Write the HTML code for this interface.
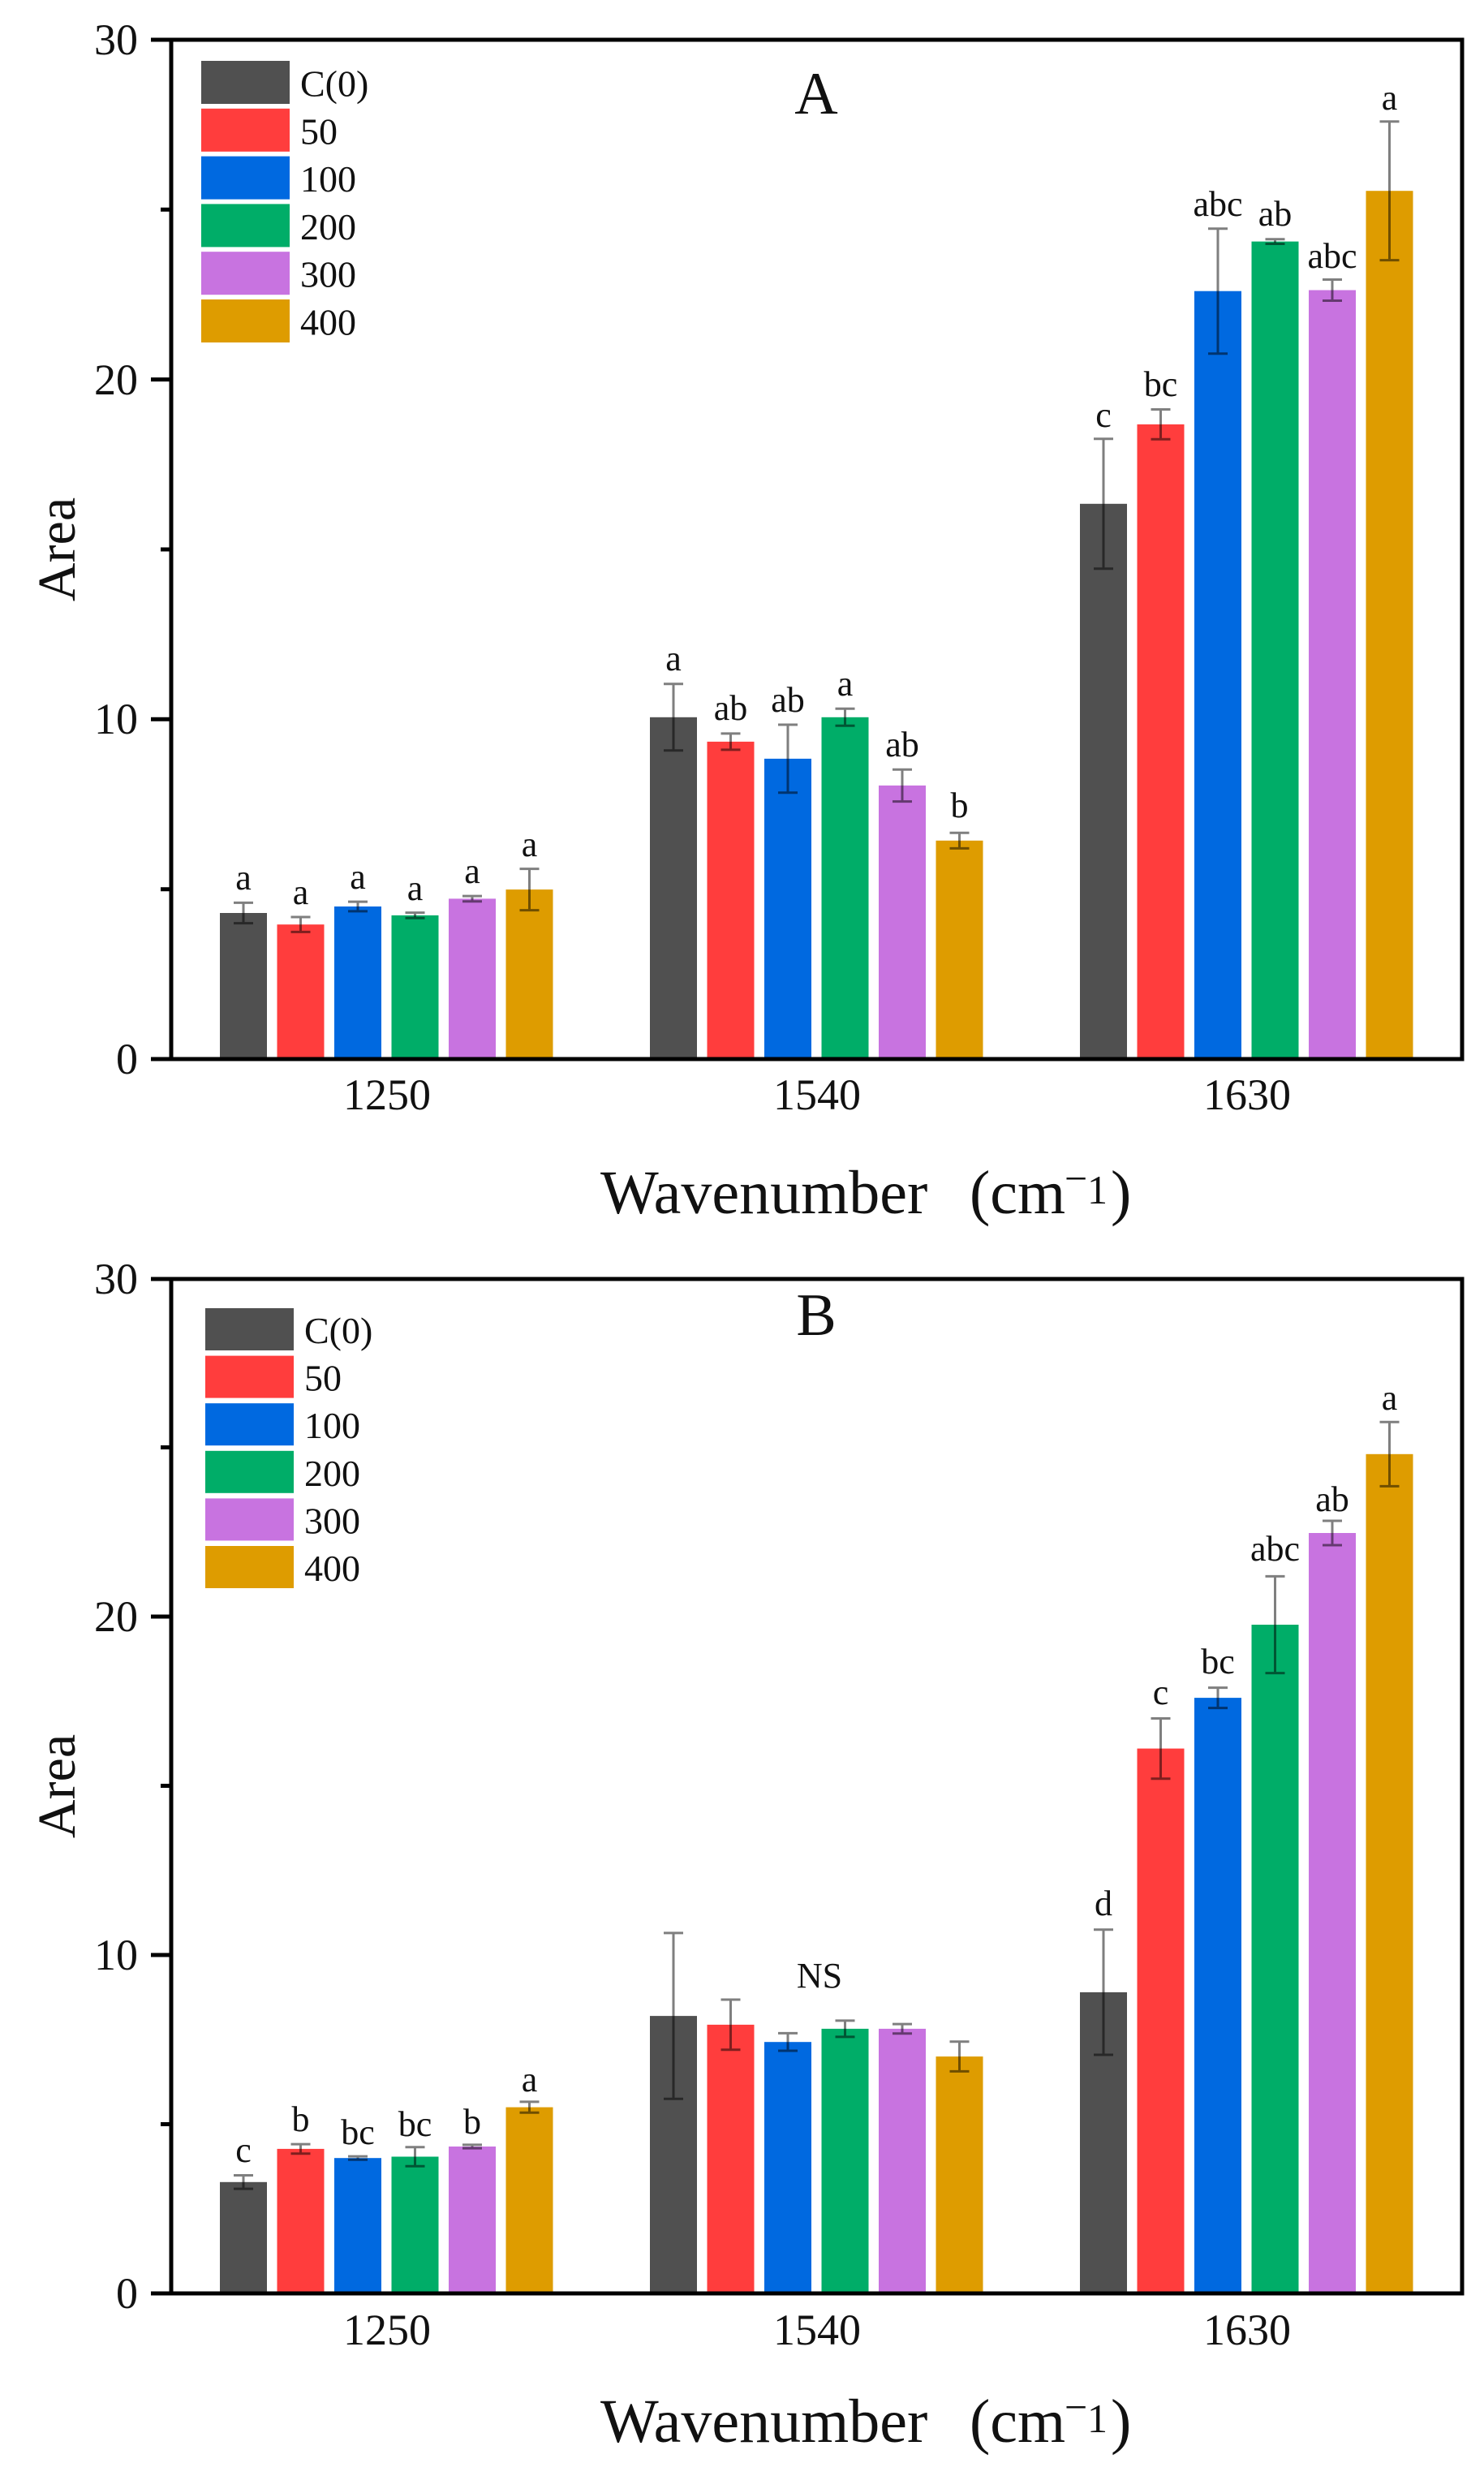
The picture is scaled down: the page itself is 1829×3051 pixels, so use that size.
<!DOCTYPE html>
<html><head><meta charset="utf-8"><style>
html,body{margin:0;padding:0;background:#fff;}
svg{display:block;}
text{font-family:"Liberation Serif","Times New Roman",serif;fill:#111;}
</style></head><body>
<svg width="1829" height="3051" viewBox="0 0 1829 3051" xmlns="http://www.w3.org/2000/svg">
<rect width="1829" height="3051" fill="#fff"/>

<!-- ================= PANEL A ================= -->
<g id="barsA">
<rect x="271" y="1125.0" width="58" height="180.0" fill="#505050"/>
<rect x="341.5" y="1139.2" width="58" height="165.8" fill="#FF3D3D"/>
<rect x="412" y="1117.0" width="58" height="188.0" fill="#0069E0"/>
<rect x="482.5" y="1127.9" width="58" height="177.1" fill="#00AD68"/>
<rect x="553" y="1107.4" width="58" height="197.6" fill="#C873E0"/>
<rect x="623.5" y="1096.1" width="58" height="208.9" fill="#DE9C00"/>
<rect x="801" y="883.8" width="58" height="421.2" fill="#505050"/>
<rect x="871.5" y="913.9" width="58" height="391.1" fill="#FF3D3D"/>
<rect x="942" y="934.9" width="58" height="370.1" fill="#0069E0"/>
<rect x="1012.5" y="883.8" width="58" height="421.2" fill="#00AD68"/>
<rect x="1083" y="967.9" width="58" height="337.1" fill="#C873E0"/>
<rect x="1153.5" y="1035.8" width="58" height="269.2" fill="#DE9C00"/>
<rect x="1331" y="620.8" width="58" height="684.2" fill="#505050"/>
<rect x="1401.5" y="522.9" width="58" height="782.1" fill="#FF3D3D"/>
<rect x="1472" y="358.7" width="58" height="946.3" fill="#0069E0"/>
<rect x="1542.5" y="297.6" width="58" height="1007.4" fill="#00AD68"/>
<rect x="1613" y="357.5" width="58" height="947.5" fill="#C873E0"/>
<rect x="1683.5" y="235.2" width="58" height="1069.8" fill="#DE9C00"/>
</g>

<g stroke="#000" stroke-opacity="0.5" stroke-width="3" fill="none">
<path d="M300 1112.4V1137.6M288 1112.4H312M288 1137.6H312"/>
<path d="M370.5 1130.0V1148.4M358.5 1130.0H382.5M358.5 1148.4H382.5"/>
<path d="M441 1111.1V1122.9M429 1111.1H453M429 1122.9H453"/>
<path d="M511.5 1124.6V1131.2M499.5 1124.6H523.5M499.5 1131.2H523.5"/>
<path d="M582 1104.1V1110.7M570 1104.1H594M570 1110.7H594"/>
<path d="M652.5 1070.6V1121.6M640.5 1070.6H664.5M640.5 1121.6H664.5"/>
<path d="M830 842.8V924.8M818 842.8H842M818 924.8H842"/>
<path d="M900.5 903.9V923.9M888.5 903.9H912.5M888.5 923.9H912.5"/>
<path d="M971 893.0V976.8M959 893.0H983M959 976.8H983"/>
<path d="M1041.5 873.3V894.3M1029.5 873.3H1053.5M1029.5 894.3H1053.5"/>
<path d="M1112 948.2V987.6M1100 948.2H1124M1100 987.6H1124"/>
<path d="M1182.5 1026.2V1045.4M1170.5 1026.2H1194.5M1170.5 1045.4H1194.5"/>
<path d="M1360 540.8V700.8M1348 540.8H1372M1348 700.8H1372"/>
<path d="M1430.5 504.5V541.3M1418.5 504.5H1442.5M1418.5 541.3H1442.5"/>
<path d="M1501 281.7V435.7M1489 281.7H1513M1489 435.7H1513"/>
<path d="M1571.5 294.7V300.5M1559.5 294.7H1583.5M1559.5 300.5H1583.5"/>
<path d="M1642 344.5V370.5M1630 344.5H1654M1630 370.5H1654"/>
<path d="M1712.5 149.8V320.6M1700.5 149.8H1724.5M1700.5 320.6H1724.5"/>
</g>

<g font-size="44" text-anchor="middle">
<text x="300" y="1096">a</text>
<text x="370.5" y="1114">a</text>
<text x="441" y="1095">a</text>
<text x="511.5" y="1109">a</text>
<text x="582" y="1088">a</text>
<text x="652.5" y="1055">a</text>
<text x="830" y="826">a</text>
<text x="900.5" y="887">ab</text>
<text x="971" y="877">ab</text>
<text x="1041.5" y="857">a</text>
<text x="1112" y="932">ab</text>
<text x="1182.5" y="1007">b</text>
<text x="1360" y="526">c</text>
<text x="1430.5" y="488">bc</text>
<text x="1501" y="266">abc</text>
<text x="1571.5" y="278">ab</text>
<text x="1642" y="330">abc</text>
<text x="1712.5" y="135">a</text>
</g>

<g stroke="#000" stroke-width="5" fill="none">
<rect x="211" y="49" width="1591" height="1256"/>
<path d="M186 1305H211M186 886.3H211M186 467.6H211M186 49H211"/>
<path d="M198 1095.7H211M198 677H211M198 258.3H211"/>
</g>
<g font-size="54" text-anchor="end">
<text x="170" y="1323">0</text>
<text x="170" y="904">10</text>
<text x="170" y="486">20</text>
<text x="170" y="67">30</text>
</g>
<g font-size="54" text-anchor="middle">
<text x="477" y="1367">1250</text>
<text x="1007" y="1367">1540</text>
<text x="1537" y="1367">1630</text>
</g>
<text font-size="76" x="740" y="1495">Wavenumber<tspan x="1195">(cm</tspan><tspan x="1312" y="1469" font-size="50">−</tspan><tspan x="1340" y="1483" font-size="50">1</tspan><tspan x="1369" y="1495" font-size="76">)</tspan></text>
<text font-size="66" text-anchor="middle" transform="translate(92,677) rotate(-90)">Area</text>
<text font-size="74" x="1006" y="140" text-anchor="middle">A</text>

<g>
<rect x="248" y="75" width="109" height="53" fill="#505050"/>
<rect x="248" y="133.8" width="109" height="53" fill="#FF3D3D"/>
<rect x="248" y="192.6" width="109" height="53" fill="#0069E0"/>
<rect x="248" y="251.4" width="109" height="53" fill="#00AD68"/>
<rect x="248" y="310.2" width="109" height="53" fill="#C873E0"/>
<rect x="248" y="369" width="109" height="53" fill="#DE9C00"/>
</g>
<g font-size="46">
<text x="370" y="118.5">C(0)</text>
<text x="370" y="177.3">50</text>
<text x="370" y="236.1">100</text>
<text x="370" y="294.9">200</text>
<text x="370" y="353.7">300</text>
<text x="370" y="412.5">400</text>
</g>

<!-- ================= PANEL B ================= -->
<g id="barsB">
<rect x="271" y="2688.8" width="58" height="137.2" fill="#505050"/>
<rect x="341.5" y="2647.9" width="58" height="178.1" fill="#FF3D3D"/>
<rect x="412" y="2659.2" width="58" height="166.8" fill="#0069E0"/>
<rect x="482.5" y="2657.5" width="58" height="168.5" fill="#00AD68"/>
<rect x="553" y="2645.0" width="58" height="181.0" fill="#C873E0"/>
<rect x="623.5" y="2596.6" width="58" height="229.4" fill="#DE9C00"/>
<rect x="801" y="2484.1" width="58" height="341.9" fill="#505050"/>
<rect x="871.5" y="2494.9" width="58" height="331.1" fill="#FF3D3D"/>
<rect x="942" y="2516.2" width="58" height="309.8" fill="#0069E0"/>
<rect x="1012.5" y="2499.9" width="58" height="326.1" fill="#00AD68"/>
<rect x="1083" y="2499.9" width="58" height="326.1" fill="#C873E0"/>
<rect x="1153.5" y="2534.1" width="58" height="291.9" fill="#DE9C00"/>
<rect x="1331" y="2454.9" width="58" height="371.1" fill="#505050"/>
<rect x="1401.5" y="2154.6" width="58" height="671.4" fill="#FF3D3D"/>
<rect x="1472" y="2092.1" width="58" height="733.9" fill="#0069E0"/>
<rect x="1542.5" y="2002.0" width="58" height="824.0" fill="#00AD68"/>
<rect x="1613" y="1889.0" width="58" height="937.0" fill="#C873E0"/>
<rect x="1683.5" y="1791.8" width="58" height="1034.2" fill="#DE9C00"/>
</g>

<g stroke="#000" stroke-opacity="0.5" stroke-width="3" fill="none">
<path d="M300 2680.5V2697.1M288 2680.5H312M288 2697.1H312"/>
<path d="M370.5 2642.1V2653.7M358.5 2642.1H382.5M358.5 2653.7H382.5"/>
<path d="M441 2657.1V2661.3M429 2657.1H453M429 2661.3H453"/>
<path d="M511.5 2645.8V2669.2M499.5 2645.8H523.5M499.5 2669.2H523.5"/>
<path d="M582 2642.9V2647.1M570 2642.9H594M570 2647.1H594"/>
<path d="M652.5 2589.9V2603.3M640.5 2589.9H664.5M640.5 2603.3H664.5"/>
<path d="M830 2381.9V2586.3M818 2381.9H842M818 2586.3H842"/>
<path d="M900.5 2464.0V2525.8M888.5 2464.0H912.5M888.5 2525.8H912.5"/>
<path d="M971 2505.4V2527.0M959 2505.4H983M959 2527.0H983"/>
<path d="M1041.5 2489.9V2509.9M1029.5 2489.9H1053.5M1029.5 2509.9H1053.5"/>
<path d="M1112 2494.1V2505.7M1100 2494.1H1124M1100 2505.7H1124"/>
<path d="M1182.5 2515.8V2552.4M1170.5 2515.8H1194.5M1170.5 2552.4H1194.5"/>
<path d="M1360 2377.8V2532.0M1348 2377.8H1372M1348 2532.0H1372"/>
<path d="M1430.5 2117.5V2191.7M1418.5 2117.5H1442.5M1418.5 2191.7H1442.5"/>
<path d="M1501 2079.6V2104.6M1489 2079.6H1513M1489 2104.6H1513"/>
<path d="M1571.5 1942.4V2061.6M1559.5 1942.4H1583.5M1559.5 2061.6H1583.5"/>
<path d="M1642 1874.0V1904.0M1630 1874.0H1654M1630 1904.0H1654"/>
<path d="M1712.5 1752.2V1831.4M1700.5 1752.2H1724.5M1700.5 1831.4H1724.5"/>
</g>

<g font-size="44" text-anchor="middle">
<text x="300" y="2664">c</text>
<text x="370.5" y="2626">b</text>
<text x="441" y="2642">bc</text>
<text x="511.5" y="2632">bc</text>
<text x="582" y="2629">b</text>
<text x="652.5" y="2577">a</text>
<text x="1010" y="2449">NS</text>
<text x="1360" y="2360">d</text>
<text x="1430.5" y="2100">c</text>
<text x="1501" y="2062">bc</text>
<text x="1571.5" y="1923">abc</text>
<text x="1642" y="1862">ab</text>
<text x="1712.5" y="1737">a</text>
</g>

<g stroke="#000" stroke-width="5" fill="none">
<rect x="211" y="1576" width="1591" height="1250"/>
<path d="M186 2826H211M186 2409H211M186 1992H211M186 1576H211"/>
<path d="M198 2617.5H211M198 2200.5H211M198 1783.5H211"/>
</g>
<g font-size="54" text-anchor="end">
<text x="170" y="2844">0</text>
<text x="170" y="2427">10</text>
<text x="170" y="2010">20</text>
<text x="170" y="1594">30</text>
</g>
<g font-size="54" text-anchor="middle">
<text x="477" y="2889">1250</text>
<text x="1007" y="2889">1540</text>
<text x="1537" y="2889">1630</text>
</g>
<text font-size="76" x="740" y="3009">Wavenumber<tspan x="1195">(cm</tspan><tspan x="1312" y="2983" font-size="50">−</tspan><tspan x="1340" y="2997" font-size="50">1</tspan><tspan x="1369" y="3009" font-size="76">)</tspan></text>
<text font-size="66" text-anchor="middle" transform="translate(92,2201) rotate(-90)">Area</text>
<text font-size="74" x="1006" y="1645" text-anchor="middle">B</text>

<g>
<rect x="253" y="1612" width="109" height="52" fill="#505050"/>
<rect x="253" y="1670.6" width="109" height="52" fill="#FF3D3D"/>
<rect x="253" y="1729.2" width="109" height="52" fill="#0069E0"/>
<rect x="253" y="1787.8" width="109" height="52" fill="#00AD68"/>
<rect x="253" y="1846.4" width="109" height="52" fill="#C873E0"/>
<rect x="253" y="1905" width="109" height="52" fill="#DE9C00"/>
</g>
<g font-size="46">
<text x="375" y="1655">C(0)</text>
<text x="375" y="1713.6">50</text>
<text x="375" y="1772.2">100</text>
<text x="375" y="1830.8">200</text>
<text x="375" y="1889.4">300</text>
<text x="375" y="1948">400</text>
</g>
</svg>
</body></html>
